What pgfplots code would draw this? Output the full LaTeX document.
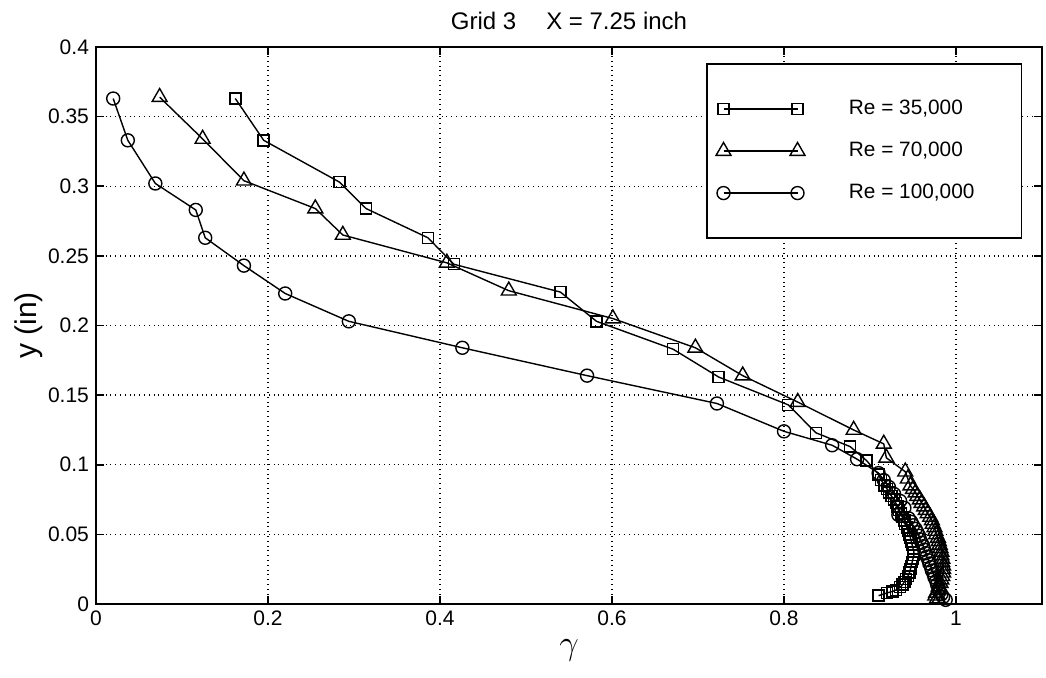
\documentclass[border=0pt]{standalone}
\usepackage{fontspec}
\setmainfont{Liberation Sans}
\usepackage{pgfplots}
\usepackage{pgfplotstable}
\pgfplotsset{compat=1.18}

\pgfplotstableread{
x y
0.162 0.363
0.195 0.333
0.283 0.303
0.314 0.284
0.386 0.263
0.416 0.244
0.540 0.224
0.582 0.203
0.671 0.183
0.724 0.163
0.805 0.143
0.837 0.123
0.877 0.113
0.896 0.103
0.910 0.093
0.913 0.089
0.917 0.085
0.920 0.0825
0.922 0.080
0.925 0.0775
0.928 0.075
0.930 0.0725
0.932 0.070
0.934 0.0675
0.936 0.065
0.938 0.0625
0.940 0.060
0.941 0.0575
0.943 0.055
0.944 0.0525
0.946 0.050
0.947 0.0475
0.948 0.045
0.949 0.0425
0.950 0.040
0.951 0.0375
0.951 0.035
0.950 0.0325
0.949 0.030
0.948 0.0275
0.947 0.025
0.946 0.0225
0.944 0.020
0.942 0.018
0.940 0.016
0.938 0.014
0.935 0.012
0.930 0.010
0.926 0.009
0.920 0.008
0.910 0.006
}\ReA

\pgfplotstableread{
x y
0.074 0.364
0.124 0.334
0.172 0.304
0.255 0.284
0.287 0.265
0.408 0.245
0.480 0.225
0.601 0.205
0.697 0.184
0.752 0.164
0.816 0.145
0.881 0.125
0.916 0.115
0.919 0.105
0.941 0.095
0.944 0.090
0.947 0.085
0.950 0.0825
0.953 0.080
0.955 0.0775
0.958 0.075
0.960 0.0725
0.963 0.070
0.965 0.0675
0.967 0.065
0.970 0.0625
0.972 0.060
0.973 0.0575
0.975 0.055
0.976 0.0525
0.977 0.050
0.979 0.0475
0.980 0.045
0.981 0.0425
0.982 0.040
0.983 0.0375
0.983 0.035
0.984 0.0325
0.984 0.030
0.985 0.0275
0.985 0.025
0.985 0.0225
0.984 0.020
0.983 0.0175
0.982 0.015
0.980 0.0125
0.979 0.010
0.977 0.008
0.976 0.006
0.978 0.004
0.980 0.003
}\ReB

\pgfplotstableread{
x y
0.020 0.363
0.037 0.333
0.069 0.302
0.116 0.283
0.127 0.263
0.172 0.243
0.220 0.223
0.294 0.203
0.426 0.184
0.571 0.164
0.722 0.144
0.800 0.124
0.856 0.114
0.885 0.104
0.910 0.094
0.916 0.089
0.922 0.084
0.928 0.079
0.935 0.074
0.940 0.069
0.933 0.064
0.945 0.0615
0.948 0.059
0.950 0.0565
0.953 0.054
0.955 0.0515
0.957 0.049
0.958 0.0465
0.960 0.044
0.962 0.0415
0.963 0.039
0.965 0.0365
0.966 0.034
0.968 0.0315
0.969 0.029
0.971 0.0265
0.972 0.024
0.974 0.0215
0.975 0.019
0.977 0.0165
0.978 0.014
0.980 0.0115
0.981 0.009
0.983 0.007
0.985 0.005
0.988 0.003
}\ReC

\begin{document}
\begin{tikzpicture}
\begin{axis}[
  name=ax,
  scale only axis,
  width=473pt, height=278.5pt,
  xmin=0, xmax=1.1, ymin=0, ymax=0.4,
  xtick={0,0.2,0.4,0.6,0.8,1},
  xticklabels={0,0.2,0.4,0.6,0.8,1},
  ytick={0,0.05,0.1,0.15,0.2,0.25,0.3,0.35,0.4},
  yticklabels={0,0.05,0.1,0.15,0.2,0.25,0.3,0.35,0.4},
  grid=major,
  grid style={dotted, black, line width=0.7pt},
  tick align=inside,
  major tick length=4pt,
  axis line style={black, line width=1pt},
  tick style={black, line width=0.8pt},
  ticklabel style={font=\fontsize{10.5}{12}\selectfont},
  title={Grid 3\hspace{15pt}X = 7.25 inch},
  title style={font=\fontsize{12}{14}\selectfont, at={(0.5,1)}, anchor=base, yshift=3pt},
  xlabel={$\gamma$},
  xlabel style={font=\fontsize{16}{18}\selectfont, at={(axis description cs:0.5,0)}, anchor=center, yshift=-23pt},
  ylabel={y (in)},
  ylabel style={font=\fontsize{15}{17}\selectfont, at={(axis description cs:0,0.5)}, anchor=center, yshift=33.5pt},
  legend cell align=left,
  legend image code/.code={
    \draw[#1] plot coordinates {(0pt,0pt) (37pt,0pt)};
  },
  legend style={at={(0.645,0.971)}, anchor=north west, draw=black, line width=0.9pt,
    inner xsep=4.5pt, inner ysep=16pt, row sep=8pt,
    font=\fontsize{10.4}{12}\selectfont,
    nodes={text height=7pt, text depth=2pt},
    /tikz/every odd column/.append style={column sep=20pt}},
]
\addplot[black, line width=0.7pt, mark=square, mark size=2.75pt, mark options={solid, line width=0.7pt}] table[x=x,y=y] {\ReA};
\addlegendentry{Re = 35,000}
\addplot[black, line width=0.7pt, mark=triangle, mark size=4.3pt, mark options={solid, line width=0.7pt}] table[x=x,y=y] {\ReB};
\addlegendentry{Re = 70,000}
\addplot[black, line width=0.7pt, mark=o, mark size=3.25pt, mark options={solid, line width=0.7pt}] table[x=x,y=y] {\ReC};
\addlegendentry{Re = 100,000\hspace*{17pt}}
\end{axis}
\pgfresetboundingbox
\path[use as bounding box] (ax.south west) ++(-48pt,-36.5pt) rectangle ++(523pt,338.5pt);
\end{tikzpicture}
\end{document}
